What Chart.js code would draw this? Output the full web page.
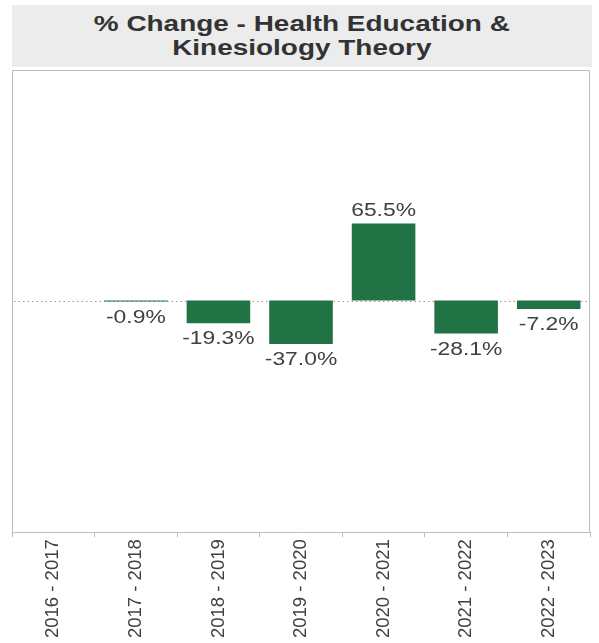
<!DOCTYPE html>
<html>
<head>
<meta charset="utf-8">
<script src="https://cdn.jsdelivr.net/npm/chart.js@4.4.1/dist/chart.umd.min.js"></script>
<style>
  html, body { margin: 0; padding: 0; background: #fff; }
  #wrap { position: relative; width: 599px; height: 643px; }
  #title {
    position: absolute; left: 12px; top: 5px; width: 580px; height: 62px;
    background: #ececec; color: #333; text-align: center;
    font: bold 22px "Liberation Sans", Arial, sans-serif; line-height: 24px;
    padding-top: 7px; box-sizing: border-box;
  }
  #title span { display: inline-block; transform: scaleX(1.27); transform-origin: 50% 50%; }
  canvas { position: absolute; left: 0; top: 0; }
</style>
</head>
<body>
<div id="wrap">
  <canvas id="chart" width="599" height="643"></canvas>
  <div id="title"><span>% Change - Health Education &amp;<br>Kinesiology Theory</span></div>
</div>
<script>
// datos del gráfico
const years = ['2016 - 2017', '2017 - 2018', '2018 - 2019', '2019 - 2020', '2020 - 2021', '2021 - 2022', '2022 - 2023'];
const pctChange = [null, -0.9, -19.3, -37.0, 65.5, -28.1, -7.2];

const BAR_COLOR = '#217346';
const FONT = '"Liberation Sans", Arial, sans-serif';
const TEXT_STRETCH = 1.27; // el original tiene el texto estirado en horizontal

// marco del área y línea punteada en cero
const framePlugin = {
  id: 'frame',
  beforeDatasetsDraw(chart) {
    const { ctx, chartArea: a, scales } = chart;
    const y0 = Math.round(scales.y.getPixelForValue(0)) + 0.5;
    ctx.save();
    ctx.strokeStyle = '#bdbdbd';
    ctx.lineWidth = 1;
    ctx.beginPath();
    ctx.moveTo(a.left + 0.5, a.bottom);
    ctx.lineTo(a.left + 0.5, a.top + 0.5);
    ctx.lineTo(a.right - 0.5, a.top + 0.5);
    ctx.lineTo(a.right - 0.5, a.bottom);
    ctx.stroke();
    ctx.strokeStyle = '#9a9a9a';
    ctx.setLineDash([1.5, 3]);
    ctx.beginPath();
    ctx.moveTo(a.left + 2, y0);
    ctx.lineTo(a.right - 2, y0);
    ctx.stroke();
    ctx.restore();
  }
};

// etiquetas de valores sobre/bajo cada barra
const labelPlugin = {
  id: 'barLabels',
  afterDatasetsDraw(chart) {
    const { ctx } = chart;
    const meta = chart.getDatasetMeta(0);
    meta.data.forEach((bar, i) => {
      const v = pctChange[i];
      if (v === null) return;
      const txt = v.toFixed(1) + '%';
      ctx.save();
      ctx.font = '18px ' + FONT;
      ctx.fillStyle = '#404040';
      ctx.textAlign = 'center';
      ctx.translate(bar.x, 0);
      ctx.scale(TEXT_STRETCH, 1);
      if (v >= 0) {
        ctx.textBaseline = 'alphabetic';
        ctx.fillText(txt, 0, bar.y - 7);
      } else {
        ctx.textBaseline = 'top';
        ctx.fillText(txt, 0, bar.y + 7);
      }
      ctx.restore();
    });
  }
};

new Chart(document.getElementById('chart'), {
  type: 'bar',
  data: {
    labels: years,
    datasets: [{ data: pctChange, backgroundColor: BAR_COLOR, borderWidth: 0, categoryPercentage: 1, barPercentage: 0.77 }]
  },
  options: {
    responsive: false, animation: false,
    layout: { padding: { top: 70, left: 12, right: 9, bottom: 3 } },
    plugins: { legend: { display: false }, tooltip: { enabled: false } },
    scales: {
      x: {
        grid: { offset: true, drawOnChartArea: false, drawTicks: true, tickLength: 5, color: '#bdbdbd' },
        border: { display: true, color: '#bdbdbd' },
        ticks: { minRotation: 90, maxRotation: 90, color: '#404040', font: { size: 18.5, family: FONT }, padding: 2 }
      },
      y: { display: false, min: -197, max: 196 }
    }
  },
  plugins: [framePlugin, labelPlugin]
});
</script>
</body>
</html>
